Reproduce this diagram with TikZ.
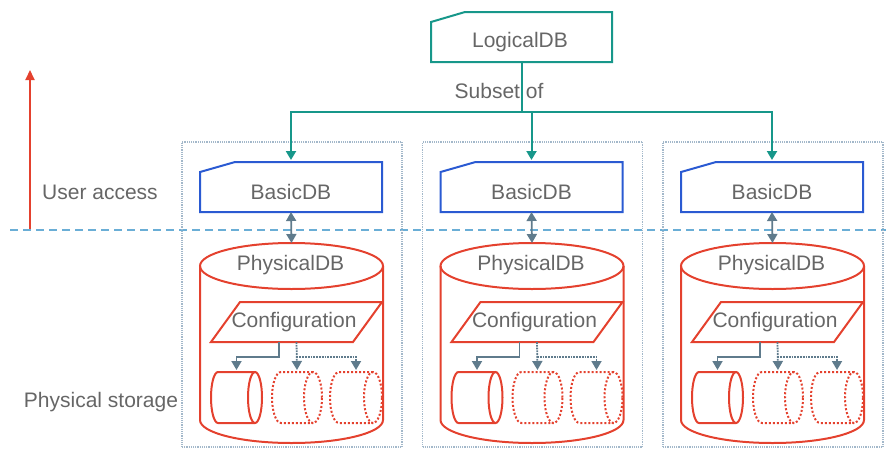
\documentclass[tikz,border=0pt]{standalone}
\usepackage{fontspec}
\setmainfont{Liberation Sans}
\usetikzlibrary{arrows.meta,calc}
\definecolor{tealc}{HTML}{17978A}
\definecolor{bluec}{HTML}{2A5AD2}
\definecolor{redc}{HTML}{E4412E}
\definecolor{txtc}{HTML}{666666}
\definecolor{connc}{HTML}{5F7B8C}
\definecolor{contc}{HTML}{A3B8CA}
\definecolor{dashc}{HTML}{6AAED6}
\begin{document}
\begin{tikzpicture}[x=1pt,y=1pt,
  lbl/.style={font=\fontsize{21}{24}\selectfont, text=txtc, inner sep=0pt},
  frame/.style={inner sep=0pt, outer sep=0pt},
  teall/.style={draw=tealc, line width=2pt},
  bluel/.style={draw=bluec, line width=2pt},
  redl/.style={draw=redc, line width=2pt},
  redd/.style={draw=redc, line width=2pt, dotted},
  conn/.style={draw=connc, line width=1.8pt},
  conntip/.style={-{Triangle[width=10pt,length=9pt]}},
  tealtip/.style={-{Triangle[width=10pt,length=9pt]}},
  cont/.style={draw=contc, line width=1.2pt, densely dotted}
]
\useasboundingbox (0,0) rectangle (886,-453);

% user access arrow and separator
\coordinate (ua0) at (30,-230);
\coordinate (ua1) at (30,-70);
\draw[draw=redc, line width=2pt, -{Triangle[width=9pt,length=10pt]}] (ua0) -- (ua1);
\coordinate (d0) at (10,-230);
\coordinate (d1) at (886,-230);
\draw[draw=dashc, line width=1.3pt, dash pattern=on 8pt off 5pt] (d0) -- (d1);
\node[lbl] (ua) at (100,-192) {User access};
\node[lbl] (ps) at (101,-402) {Physical storage};

% LogicalDB
\node[frame, minimum width=181pt, minimum height=50pt] (ldb) at (521.5,-37) {};
\draw[teall] ($(ldb.north west)+(0,-10)$) -- ($(ldb.north west)+(34,0)$) -- (ldb.north east) -- (ldb.south east) -- (ldb.south west) -- cycle;
\node[lbl] (ldbt) at (520,-42) {LogicalDB};
\coordinate (jn) at (0,-112);

\foreach \i/\dx in {1/0,2/240.5,3/481} {
  \begin{scope}[xshift=\dx pt]
    \node[frame, cont, minimum width=220pt, minimum height=305pt] (k\i) at (292,-294.5) {};
    % BasicDB
    \node[frame, minimum width=182pt, minimum height=50pt] (b\i) at (291,-187) {};
    \draw[bluel] ($(b\i.north west)+(0,-10)$) -- ($(b\i.north west)+(35,0)$) -- (b\i.north east) -- (b\i.south east) -- (b\i.south west) -- cycle;
    \node[lbl] (bt\i) at (291,-192) {BasicDB};
    % PhysicalDB cylinder
    \node[frame, minimum width=183pt, minimum height=200pt] (p\i) at (291.5,-343) {};
    \draw[redl] ($(p\i.north)+(0,-23)$) ellipse [x radius=91.5pt, y radius=23pt];
    \draw[redl] ($(p\i.north west)+(0,-23)$) -- ($(p\i.south west)+(0,23)$)
       arc[start angle=180, end angle=360, x radius=91.5pt, y radius=23pt]
       -- ($(p\i.north east)+(0,-23)$);
    \node[lbl] (pt\i) at (290.5,-265) {PhysicalDB};
    % Configuration
    \node[frame, minimum width=171pt, minimum height=40pt] (cf\i) at (296.5,-322) {};
    \draw[redl] (cf\i.south west) -- ($(cf\i.north west)+(29,0)$) -- (cf\i.north east) -- ($(cf\i.south east)+(-29,0)$) -- cycle;
    \node[lbl] (cft\i) at (294,-322) {Configuration};
    % small cylinders
    \node[frame, minimum width=51pt, minimum height=51pt] (ca\i) at (236.5,-397.5) {};
    \node[frame, minimum width=50pt, minimum height=51pt] (cb\i) at (297,-397.5) {};
    \node[frame, minimum width=52pt, minimum height=51pt] (cc\i) at (356,-397.5) {};
    \draw[redl] ($(ca\i.north east)+(-7,0)$) -- ($(ca\i.north west)+(7,0)$)
       arc[start angle=90, end angle=270, x radius=7pt, y radius=25.5pt]
       -- ($(ca\i.south east)+(-7,0)$);
    \draw[redl] ($(ca\i.east)+(-7,0)$) ellipse [x radius=7pt, y radius=25.5pt];
    \foreach \c in {cb,cc} {
      \draw[redd] ($(\c\i.north east)+(-9,0)$) -- ($(\c\i.north west)+(9,0)$)
         arc[start angle=90, end angle=270, x radius=9pt, y radius=25.5pt]
         -- ($(\c\i.south east)+(-9,0)$);
      \draw[redd] ($(\c\i.east)+(-9,0)$) ellipse [x radius=9pt, y radius=25.5pt];
    }
    % connectors inside
    \draw[conn, conntip] ($(cf\i.south)+(-17.5,0)$) -- ++(0,-15) -| ($(ca\i.north)+(0,2)$);
    \draw[conn, densely dotted, conntip] (cf\i.south) -- ($(cb\i.north)+(0,2)$);
    \draw[conn, densely dotted, conntip] ($(cf\i.south)+(0,-15)$) -| ($(cc\i.north)+(0,2)$);
    % BasicDB <-> PhysicalDB
    \draw[conn, {Triangle[width=10pt,length=9pt]}-{Triangle[width=10pt,length=9pt]}] (b\i.south) -- (p\i.north);
  \end{scope}
}

% Subset of connectors
\draw[teall] (ldb.south) -- (ldb.south |- jn);
\draw[teall] ($(b1.north |- jn)+(-1,0)$) -- ($(b3.north |- jn)+(1,0)$);
\foreach \i in {1,2,3} {
  \draw[teall, tealtip] (b\i.north |- jn) -- ($(b\i.north)+(0,2)$);
}
\node[lbl] (sub) at (499,-91) {Subset of};
\end{tikzpicture}
\end{document}
